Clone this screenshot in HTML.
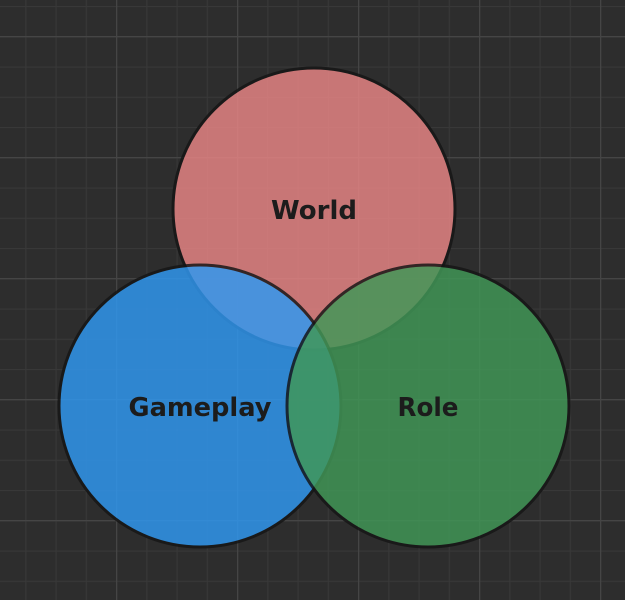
<!DOCTYPE html>
<html><head><meta charset="utf-8"><style>
html,body{margin:0;padding:0;background:#2d2d2d;}
svg{display:block}
text{font-family:"DejaVu Sans","Liberation Sans",sans-serif;font-weight:bold;font-size:26px;fill:#1c1c1c}
</style></head><body>
<svg width="625" height="600" viewBox="0 0 625 600" xmlns="http://www.w3.org/2000/svg">
<defs>
<pattern id="minor" x="-5" y="6" width="30.25" height="30.25" patternUnits="userSpaceOnUse">
<path d="M0.5 0 V30.25 M0 0.5 H30.25" stroke="#383838" stroke-width="1.2" fill="none"/>
</pattern>
<pattern id="major" x="-5" y="36" width="121" height="121" patternUnits="userSpaceOnUse">
<path d="M0.5 0 V121 M0 0.5 H121" stroke="#454545" stroke-width="1.5" fill="none"/>
</pattern>
</defs>
<rect width="625" height="600" fill="#2d2d2d"/>
<rect width="625" height="600" fill="url(#minor)"/>
<rect x="0" y="0" width="625" height="600" fill="url(#major)"/>
<g opacity="0.83"><circle cx="314" cy="209" r="141" fill="#e88585" stroke="#151515" stroke-width="3"/></g>
<g opacity="0.83"><circle cx="200" cy="406" r="141" fill="#3098f1" stroke="#151515" stroke-width="3"/></g>
<g opacity="0.83"><circle cx="428" cy="406" r="141" fill="#419757" stroke="#151515" stroke-width="3"/></g>
<text x="314" y="219" text-anchor="middle" textLength="86" lengthAdjust="spacingAndGlyphs">World</text>
<text x="200" y="416" text-anchor="middle" textLength="143" lengthAdjust="spacingAndGlyphs">Gameplay</text>
<text x="428" y="416" text-anchor="middle" textLength="61" lengthAdjust="spacingAndGlyphs">Role</text>
</svg>
</body></html>
